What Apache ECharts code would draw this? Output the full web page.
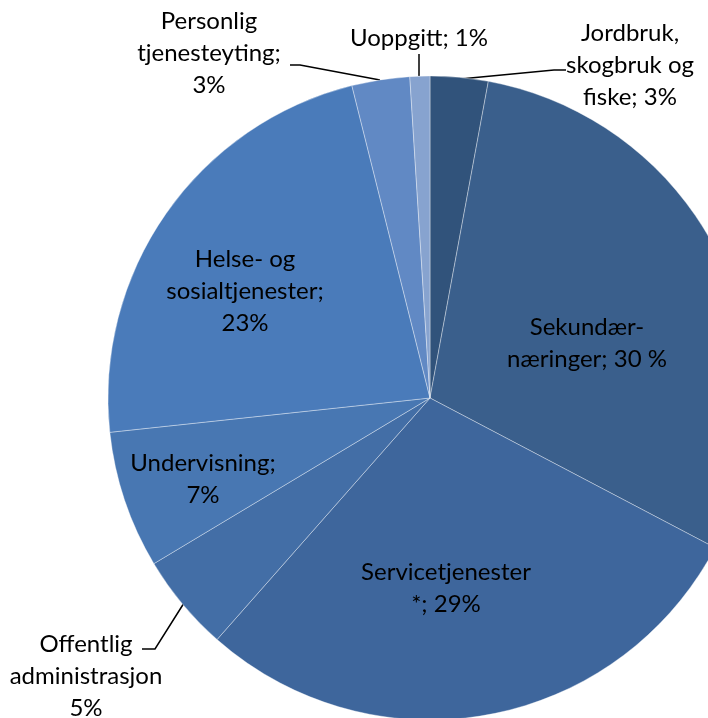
<!DOCTYPE html>
<html>
<head>
<meta charset="utf-8">
<script src="https://cdn.jsdelivr.net/npm/echarts@6/dist/echarts.min.js"></script>
<style>html,body{margin:0;padding:0;background:#fff}#c{width:708px;height:718px}</style>
</head>
<body>
<div id="c"></div>
<script>
const categories = ["Jordbruk, skogbruk og fiske","Sekundærnæringer","Servicetjenester *","Offentlig administrasjon","Undervisning","Helse- og sosialtjenester","Personlig tjenesteyting","Uoppgitt"];
const values = [2.9, 29.8, 28.8, 4.9, 6.9, 22.8, 2.9, 1.0];
const labelTexts = ["Jordbruk,\nskogbruk og\nfiske; 3%","Sekundær-\nnæringer; 30 %","Servicetjenester\n*; 29%","Offentlig\nadministrasjon\n5%","Undervisning;\n7%","Helse- og\nsosialtjenester;\n23%","Personlig\ntjenesteyting;\n3%","Uoppgitt; 1%"];
const colors = ["#31537B","#3A5F8C","#3E669C","#436EA6","#4877B2","#4A7BBA","#6189C4","#87A3CF"];

// label layout (positions only)
const labelPos = [
  {x:630,y:65, line:[[460,79],[554,70],[566,70]]},
  {x:587,y:343},
  {x:446,y:588},
  {x:86,y:676, line:[[184,603],[155,649],[142,649]]},
  {x:203,y:479},
  {x:245,y:291},
  {x:209,y:53, line:[[380,80],[300,65],[290,65]]},
  {x:419,y:38, line:[[419,76],[419,54]]}
];

const chart = echarts.init(document.getElementById('c'), null, {renderer:'canvas'});
chart.setOption({
  animation:false,
  series:[{
    type:'pie',
    center:[430,398],
    radius:[0,322],
    startAngle:90,
    clockwise:true,
    silent:true,
    avoidLabelOverlap:false,
    itemStyle:{borderColor:'rgba(255,255,255,0.6)',borderWidth:0.6},
    label:{show:true,position:'outside',color:'#000',fontFamily:'Lato',fontSize:24,lineHeight:32,align:'center',
      formatter:p=>labelTexts[p.dataIndex]},
    labelLine:{show:true,lineStyle:{color:'#000',width:1.5}},
    labelLayout:function(p){
      const lp = labelPos[p.dataIndex];
      const o = {x:lp.x,y:lp.y,align:'center',verticalAlign:'middle'};
      if (lp.line) o.labelLinePoints = lp.line;
      return o;
    },
    data: categories.map((c,i)=>({name:c,value:values[i],itemStyle:{color:colors[i]},
      labelLine:{show:!!labelPos[i].line}}))
  }]
});
</script>
</body>
</html>
